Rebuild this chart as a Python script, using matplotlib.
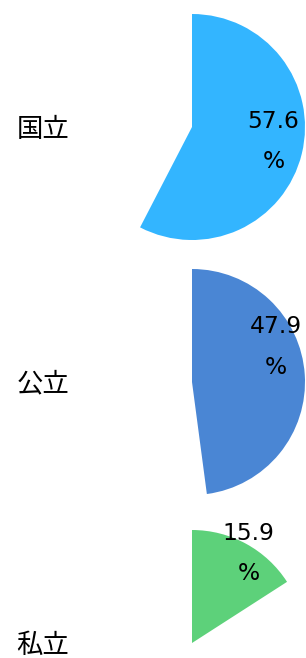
import matplotlib
matplotlib.use("Agg")
import matplotlib.pyplot as plt

categories = ["国立", "公立", "私立"]
values = [57.6, 47.9, 15.9]
colors = ["#33b5ff", "#4a86d4", "#5dd17a"]

# label offsets (axes fraction) for the percent labels
label_pos = [(0.86, 0.435), (0.87, 0.655), (0.75, 0.895)]

W, H = 306, 658
dpi = 100
fig = plt.figure(figsize=(W / dpi, H / dpi), dpi=dpi)

centers_y = [127, 382, 643]
cx = 192
R = 113

for i, (cat, v, c) in enumerate(zip(categories, values, colors)):
    cy = H - centers_y[i]
    ax = fig.add_axes([(cx - R) / W, (cy - R) / H, 2 * R / W, 2 * R / H])
    ax.pie([v, 100 - v], colors=[c, "none"], startangle=90, counterclock=False,
           radius=1.0, wedgeprops=dict(linewidth=0))
    ax.set_xlim(-1, 1)
    ax.set_ylim(-1, 1)
    ax.set_aspect("equal")
    ax.axis("off")
    lx, ly = label_pos[i]
    ax.text(lx, ly, f"{v}\n%", transform=ax.transAxes, ha="center", va="center",
            fontsize=16.8, family="DejaVu Sans", linespacing=1.95, color="black",
            clip_on=False)
    ax.text((43 - (cx - R)) / (2 * R), 0.49, cat, transform=ax.transAxes,
            ha="center", va="center", fontsize=19,
            family=["Noto Sans CJK JP", "DejaVu Sans"], color="black", clip_on=False)

fig.savefig("out.png", dpi=dpi)
